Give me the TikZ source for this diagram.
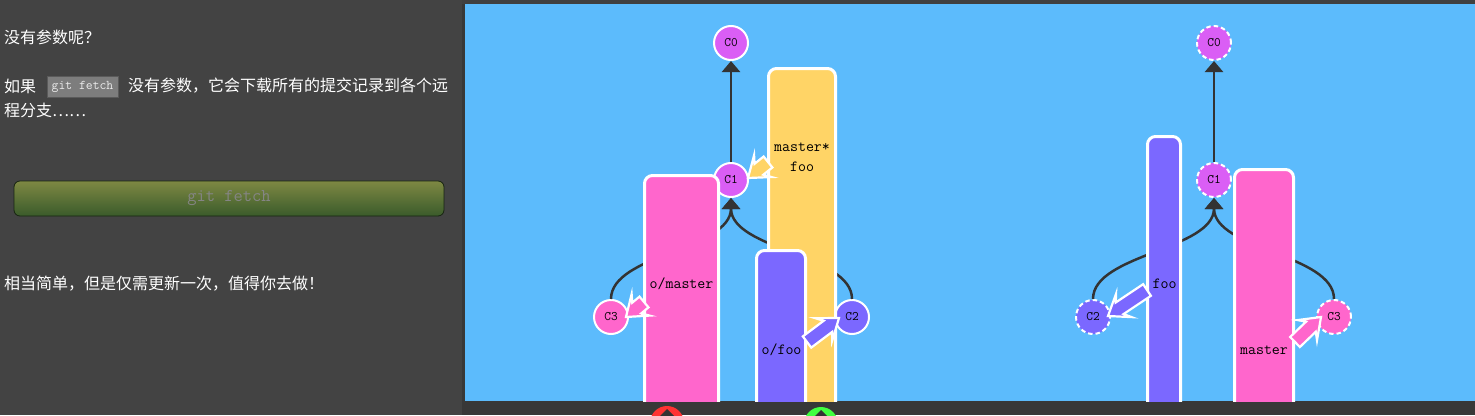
\documentclass[tikz,border=0pt]{standalone}
\usepackage{fontspec}
\newfontfamily\cjk{Noto Sans CJK SC}
\usetikzlibrary{arrows.meta,calc}
\definecolor{bgl}{HTML}{434343}
\definecolor{bgr}{HTML}{383838}
\definecolor{panelc}{HTML}{5CBBFC}
\definecolor{pinkc}{HTML}{FF66CC}
\definecolor{yellowc}{HTML}{FFD466}
\definecolor{purplec}{HTML}{7B68FF}
\definecolor{commitc}{HTML}{DA5EF5}
\definecolor{edgec}{HTML}{333333}
\definecolor{btntop}{HTML}{7E8843}
\definecolor{btnbot}{HTML}{3A5B2B}
\definecolor{btntext}{HTML}{858585}
\definecolor{codefill}{HTML}{7D7D7D}
\definecolor{codeline}{HTML}{5A5A5A}
\tikzset{
  cjktext/.style={anchor=west, inner sep=0pt, text=white, font=\cjk\fontsize{16}{19}\selectfont},
  commit/.style={circle, minimum size=34pt, inner sep=0pt, draw=white, line width=2pt, fill=#1,
    font=\ttfamily\fontsize{13}{15}\selectfont},
  dcommit/.style={commit=#1, dash pattern=on 4.5pt off 3pt},
  edge/.style={draw=edgec, line width=2.5pt, -{Triangle[width=18pt,length=11pt]}},
  barsty/.style={draw=white, line width=3pt, fill=#1, rounded corners=8pt},
  barlabel/.style={inner sep=0pt, text=black, font=\ttfamily\fontsize{15.5}{18}\selectfont},
  brarr/.style={draw=white, line width=2.2pt, fill=#1, line join=miter},
}
\newcommand\brarrow[3]{%
  \draw[brarr=#3] let \p1=(#1), \p2=(#2), \n1={atan2(\y2-\y1,\x2-\x1)} in
    ($(#1)+(\n1+90:7pt)$) -- ($(#2)+(\n1+180:14pt)+(\n1+90:7pt)$)
    -- ($(#2)+(\n1+180:19pt)+(\n1+90:14pt)$) -- (#2)
    -- ($(#2)+(\n1+180:19pt)+(\n1-90:14pt)$) -- ($(#2)+(\n1+180:14pt)+(\n1-90:7pt)$)
    -- ($(#1)+(\n1-90:7pt)$) -- cycle;}
\begin{document}
\begin{tikzpicture}[x=1pt,y=-1pt]
\useasboundingbox (0,0) rectangle (1475,415);
% backgrounds
\fill[bgl] (0,0) rectangle (1475,415);
\fill[bgr] (462,0) rectangle (1475,415);
\fill[black!75] (462,0) rectangle (1475,4);
\fill[panelc] (465,4) rectangle (1475,401);

% left text column
\node[cjktext] (t1) at (4,37.5) {没有参数呢？};
\node[cjktext] (t2a) at (4,86) {如果};
\node[draw=codeline, line width=1pt, fill=codefill, minimum width=71pt, minimum height=21pt, inner sep=0pt,
      text=white!92!black, font=\ttfamily\fontsize{13.3}{15}\selectfont] (code) at (82.5,86.5) {git fetch};
\node[cjktext] (t2b) at (128,86) {没有参数，它会下载所有的提交记录到各个远};
\node[cjktext] (t3) at (4,110) {程分支……};
\node[cjktext] (t4) at (4,284) {相当简单，但是仅需更新一次，值得你去做！};

% button
\node[rounded corners=6pt, top color=btntop, bottom color=btnbot, draw=black!60!btnbot, line width=0.8pt,
      minimum width=430pt, minimum height=35pt, inner sep=0pt, text=btntext,
      font=\ttfamily\fontsize{18}{20}\selectfont] (btn) at (229,198.5) {git fetch};

% bottom controls
\fill[red!80!white] (667,423) circle (17);
\fill[green!75!white] (821,424) circle (17);
\fill[edgec] (659,417) -- (667,409) -- (675,417) -- cycle;
\fill[edgec] (813,418) -- (821,410) -- (829,418) -- cycle;

\begin{scope}
\clip (465,4) rectangle (1475,401);
% ---------- left graph ----------
\node[commit=commitc] (LC0) at (731,43) {C0};
\node[commit=commitc] (LC1) at (731,180) {C1};
\node[commit=pinkc] (LC3) at (611,317) {C3};
\node[commit=purplec] (LC2) at (852,317) {C2};
\draw[edge] (LC1) -- (LC0);
\draw[edge] (LC3.north) .. controls +(0,-45) and +(0,52) .. (LC1.south);
\draw[edge] (LC2.north) .. controls +(0,-45) and +(0,52) .. (LC1.south);
% bars
\path[barsty=yellowc] (768.5,68.5) rectangle (835.5,440);
\node[barlabel] (Lmaster) at (802,147) {master*};
\node[barlabel] (Lfoo) at (802,167) {foo};
\path[barsty=pinkc] (644.5,175.5) rectangle (718.5,440);
\node[barlabel] (Lom) at (681.5,284) {o/master};
\path[barsty=purplec] (756.5,250.5) rectangle (805.5,440);
\node[barlabel] (Lof) at (781.5,350) {o/foo};
% branch arrows
\coordinate (omS) at (644,302);
\coordinate (omT) at (626,317);
\coordinate (msS) at (768,162);
\coordinate (msT) at (748,178);
\coordinate (ofS) at (807,342);
\coordinate (ofT) at (839,318);
\brarrow{omS}{omT}{pinkc}
\brarrow{msS}{msT}{yellowc}
\brarrow{ofS}{ofT}{purplec}

% ---------- right graph ----------
\node[dcommit=commitc] (RC0) at (1214,43) {C0};
\node[dcommit=commitc] (RC1) at (1214,180) {C1};
\node[dcommit=purplec] (RC2) at (1093,317) {C2};
\node[dcommit=pinkc] (RC3) at (1334,317) {C3};
\draw[edge] (RC1) -- (RC0);
\draw[edge] (RC2.north) .. controls +(0,-45) and +(0,52) .. (RC1.south);
\draw[edge] (RC3.north) .. controls +(0,-45) and +(0,52) .. (RC1.south);
\path[barsty=purplec] (1147.5,136.5) rectangle (1180.5,440);
\node[barlabel] (Rfoo) at (1164.5,284) {foo};
\path[barsty=pinkc] (1234.5,169.5) rectangle (1293.5,440);
\node[barlabel] (Rmaster) at (1264,350) {master};
\coordinate (rfS) at (1147,290);
\coordinate (rfT) at (1108,316);
\coordinate (rmS) at (1295,342);
\coordinate (rmT) at (1321,317);
\brarrow{rfS}{rfT}{purplec}
\brarrow{rmS}{rmT}{pinkc}
\end{scope}
\end{tikzpicture}
\end{document}
